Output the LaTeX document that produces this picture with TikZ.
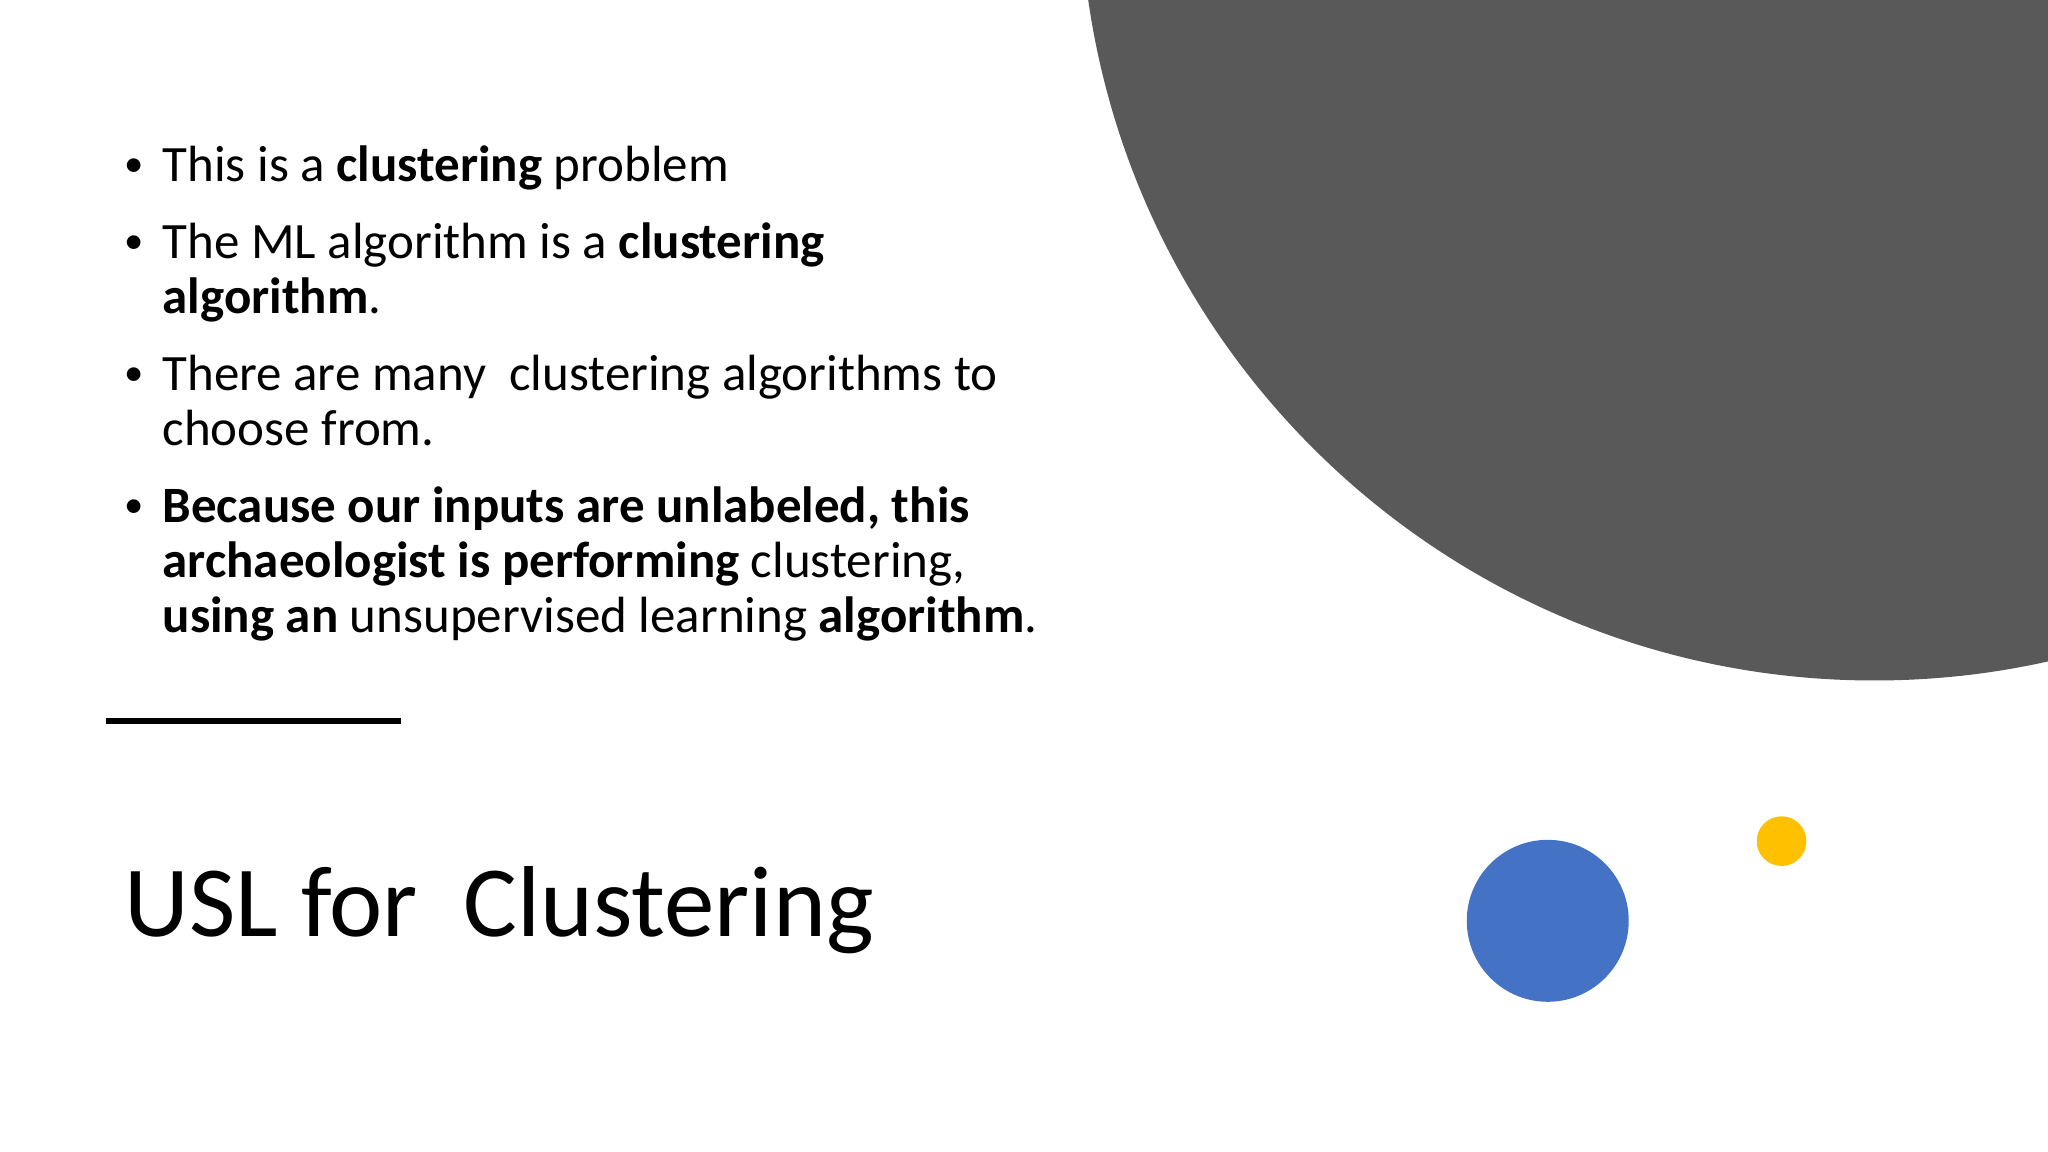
\documentclass[tikz,border=0pt]{standalone}
\usepackage{fontspec}
\setmainfont{Carlito}
\definecolor{bigg}{HTML}{595959}
\definecolor{blu}{HTML}{4472C4}
\definecolor{yel}{HTML}{FFC000}
\begin{document}
\begin{tikzpicture}[x=0.013061cm,y=-0.013061cm,
  ln/.style={anchor=base west,inner sep=0pt,font=\fontsize{14.5}{17}\selectfont},
  bul/.style={anchor=base west,inner sep=0pt,font=\fontsize{11}{13}\selectfont}]
\useasboundingbox (0,0) rectangle (1568,882);
\fill[white] (0,0) rectangle (1568,882);
\begin{scope}
\clip (0,0) rectangle (1568,882);
\fill[bigg] (1435,-87) circle[radius=608];
\end{scope}
\fill[blu] (1185,705) circle[radius=62];
\fill[yel] (1364,644) circle[radius=19];
\draw[line width=1.5pt] (81,552) coordinate (l1) -- (307,552) coordinate (l2);
\foreach \y/\n in {135/b1,194/b2,295/b3,396/b4}{\node[bul] (\n) at (95,\y) {•};}
\node[ln] (t1) at (124,139) {This is a \textbf{clustering} problem};
\node[ln] (t2) at (124,198) {The ML algorithm is a \textbf{clustering}};
\node[ln] (t3) at (124,240) {\textbf{algorithm}.};
\node[ln] (t4) at (124,299) {There are many \ clustering algorithms to};
\node[ln] (t5) at (124,341) {choose from.};
\node[ln] (t6) at (124,400) {\textbf{Because our inputs are unlabeled, this}};
\node[ln] (t7) at (124,442) {\textbf{archaeologist is performing} clustering,};
\node[ln] (t8) at (124,484) {\textbf{using an} unsupervised learning \textbf{algorithm}.};
\node[anchor=base west,inner sep=0pt,font=\fontsize{28.7}{34}\selectfont] (title) at (95,717) {USL for \ Clustering};
\end{tikzpicture}
\end{document}
